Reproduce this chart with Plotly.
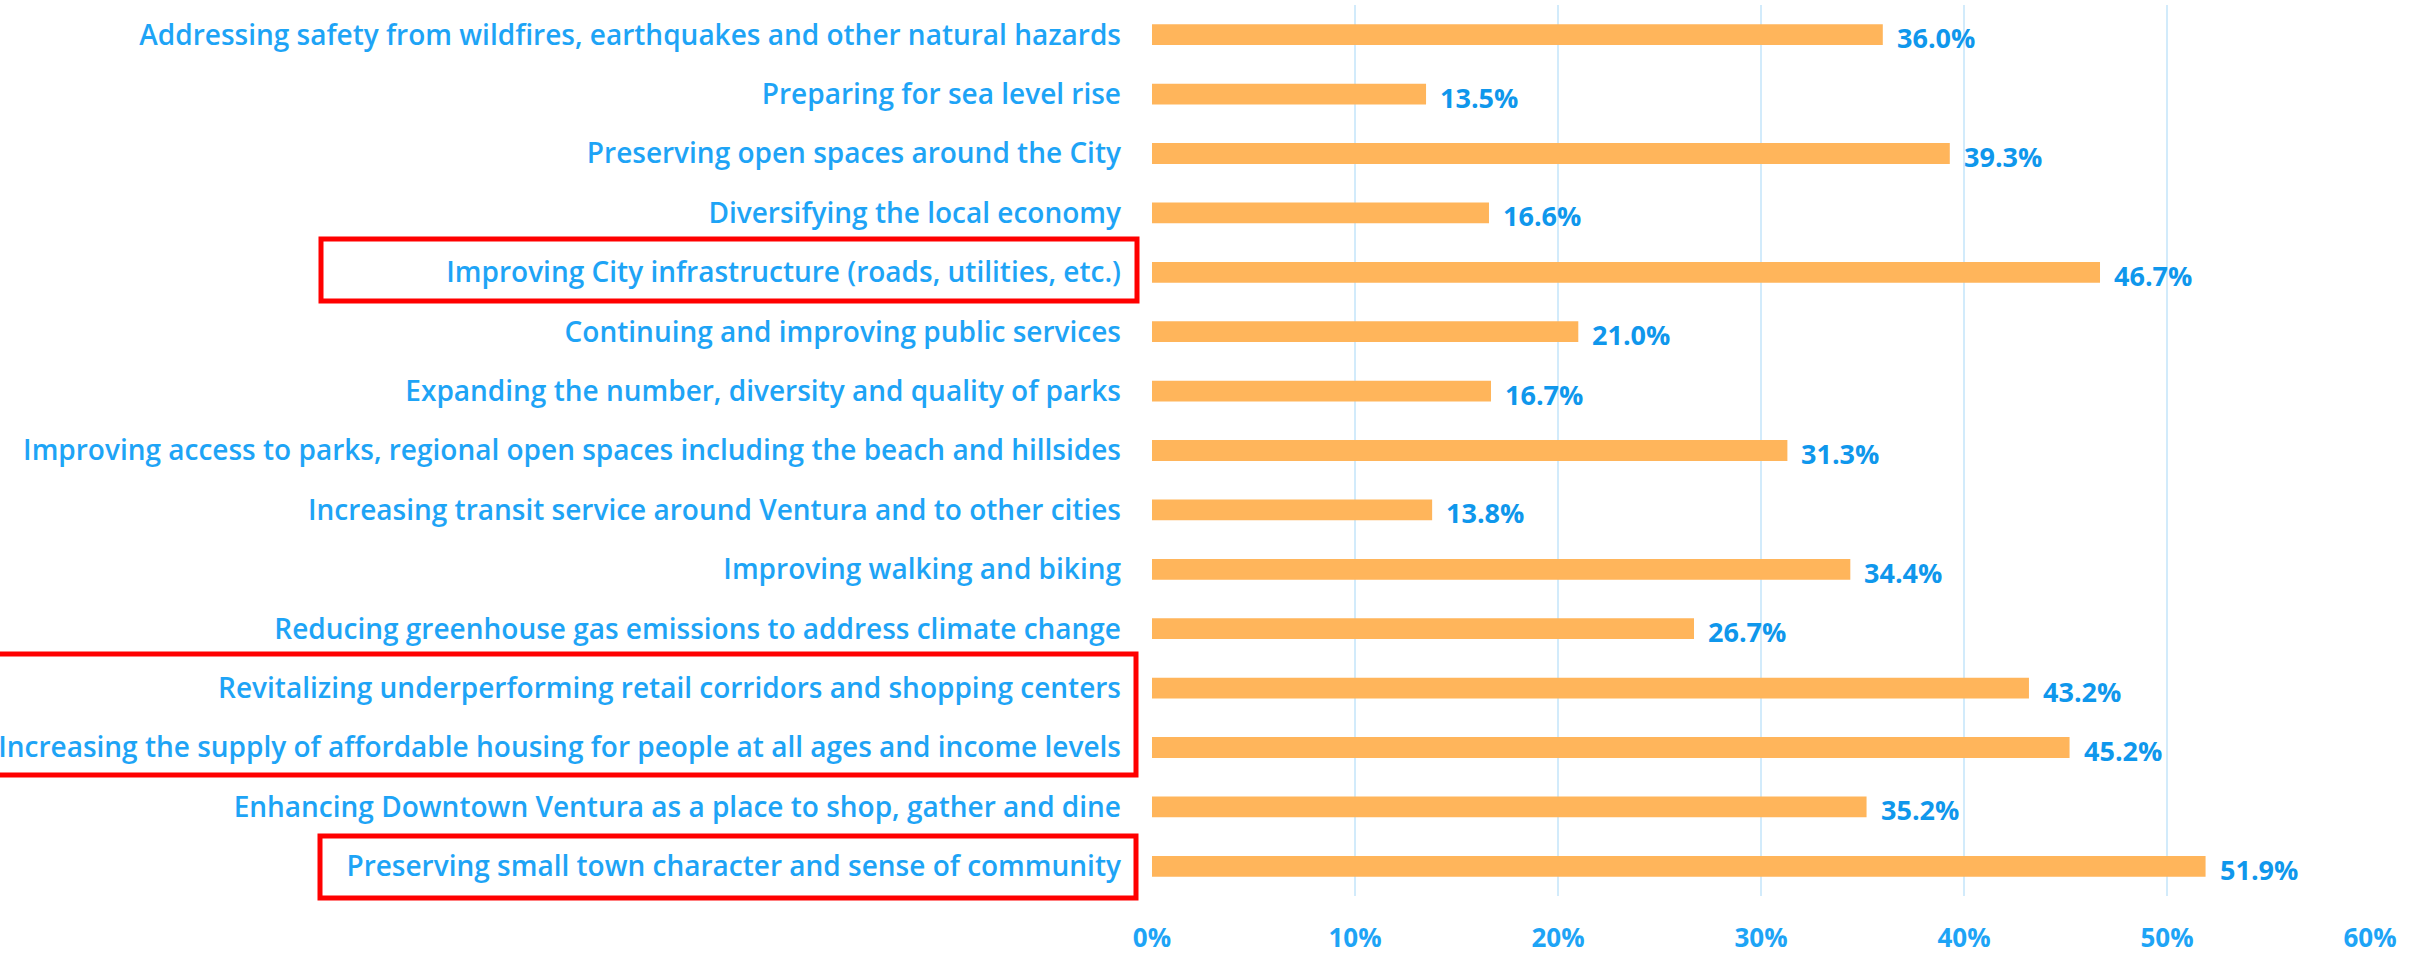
import plotly.graph_objects as go

# Survey priorities, listed top to bottom
priorities = [
    "Addressing safety from wildfires, earthquakes and other natural hazards",
    "Preparing for sea level rise",
    "Preserving open spaces around the City",
    "Diversifying the local economy",
    "Improving City infrastructure (roads, utilities, etc.)",
    "Continuing and improving public services",
    "Expanding the number, diversity and quality of parks",
    "Improving access to parks, regional open spaces including the beach and hillsides",
    "Increasing transit service around Ventura and to other cities",
    "Improving walking and biking",
    "Reducing greenhouse gas emissions to address climate change",
    "Revitalizing underperforming retail corridors and shopping centers",
    "Increasing the supply of affordable housing for people at all ages and income levels",
    "Enhancing Downtown Ventura as a place to shop, gather and dine",
    "Preserving small town character and sense of community",
]
share_pct = [36.0, 13.5, 39.3, 16.6, 46.7, 21.0, 16.7, 31.3, 13.8, 34.4, 26.7, 43.2, 45.2, 35.2, 51.9]
x_ticks = [0, 10, 20, 30, 40, 50, 60]

W, H = 2433, 958
ML, MR, MT, MB = 1152, 63, 5, 62
PW, PH = W - ML - MR, H - MT - MB

LABEL_BLUE = "#1EA4F6"
VALUE_BLUE = "#0F97EC"
BAR_ORANGE = "#FFB55B"
GRID_BLUE = "#D2EBFB"
FONT = "Open Sans, sans-serif"


def px_x(p):
    return (p - ML) / PW


def px_y(p):
    return (H - MB - p) / PH


fig = go.Figure(
    go.Bar(
        x=share_pct,
        y=priorities,
        orientation="h",
        marker=dict(color=BAR_ORANGE, line=dict(width=0)),
        width=0.35,
        hoverinfo="x+y",
    )
)

# Value labels placed just beyond each bar end
for cat, v in zip(priorities, share_pct):
    fig.add_annotation(
        x=v, y=cat, xref="x", yref="y",
        text=f"{v:.1f}%",
        showarrow=False, xanchor="left", yanchor="middle",
        xshift=12, yshift=-3,
        font=dict(family=FONT, size=27, color=VALUE_BLUE, weight=700),
    )

# Red highlight frames around selected priorities
frames = [
    (321, 239, 1137, 301),
    (-20, 654, 1136, 775),
    (320, 836, 1136, 898),
]
for x0, y0, x1, y1 in frames:
    fig.add_shape(
        type="rect", xref="paper", yref="paper",
        x0=px_x(x0), x1=px_x(x1), y0=px_y(y1), y1=px_y(y0),
        line=dict(color="#FF0000", width=5),
        fillcolor="rgba(0,0,0,0)",
        layer="above",
    )

fig.update_layout(
    width=W, height=H,
    margin=dict(l=ML, r=MR, t=MT, b=MB, autoexpand=False),
    paper_bgcolor="white",
    plot_bgcolor="white",
    showlegend=False,
    xaxis=dict(
        range=[0, 60],
        tickvals=x_ticks,
        ticktext=[f"{t}%" for t in x_ticks],
        showgrid=True, gridcolor=GRID_BLUE, gridwidth=1.5,
        zeroline=False, showline=False,
        tickfont=dict(family=FONT, size=26, color=LABEL_BLUE, weight=700),
        ticklabelstandoff=24,
        automargin=False,
        fixedrange=True,
    ),
    yaxis=dict(
        autorange="reversed",
        showgrid=False, zeroline=False, showline=False,
        tickfont=dict(family=FONT, size=28, color=LABEL_BLUE, weight=600),
        ticklabelstandoff=30,
        automargin=False,
        fixedrange=True,
    ),
)

fig.write_html("out.html")
